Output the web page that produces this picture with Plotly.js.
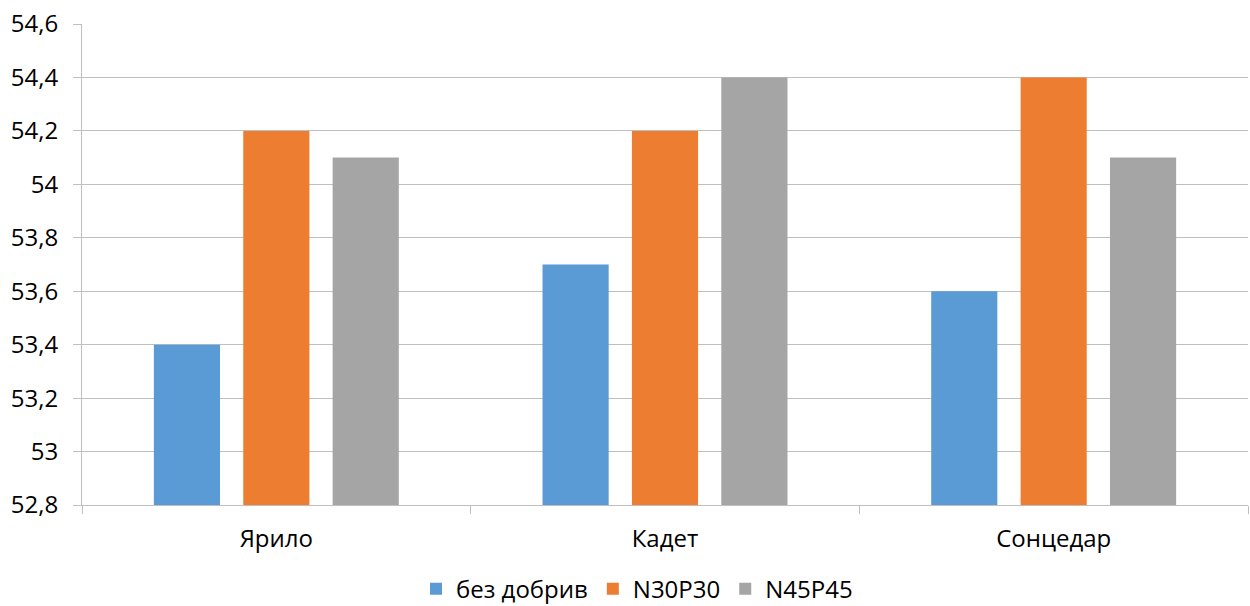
<!DOCTYPE html>
<html>
<head>
<meta charset="utf-8">
<script src="https://cdn.plot.ly/plotly-3.0.1.min.js"></script>
<style>
  html, body { margin: 0; padding: 0; background: #fff; }
  #chart { width: 1250px; height: 606px; }
</style>
</head>
<body>
<div id="chart"></div>
<script>
// Varieties and fertiliser treatments
const categories = ["Ярило", "Кадет", "Сонцедар"];
const seriesNames = ["без добрив", "N30P30", "N45P45"];
const noFertilizer = [53.4, 53.7, 53.6];
const n30p30 = [54.2, 54.2, 54.4];
const n45p45 = [54.1, 54.4, 54.1];
const yTicks = [52.8, 53, 53.2, 53.4, 53.6, 53.8, 54, 54.2, 54.4, 54.6];

const colors = ["#5B9BD5", "#ED7D31", "#A5A5A5"];
const values = [noFertilizer, n30p30, n45p45];

const traces = values.map((v, i) => ({
  type: "bar",
  name: seriesNames[i],
  x: categories,
  y: v,
  marker: { color: colors[i], line: { width: 0 } },
  hoverinfo: "skip"
}));

const font = "Open Sans, Noto Sans, Liberation Sans, sans-serif";

const layout = {
  width: 1250,
  height: 606,
  margin: { l: 82, r: 2, t: 23.5, b: 101, autoexpand: false },
  paper_bgcolor: "#ffffff",
  plot_bgcolor: "#ffffff",
  separators: ", ",
  barmode: "group",
  bargap: 0.31,
  bargroupgap: 0.26,
  font: { family: font, size: 24, color: "#000" },
  showlegend: true,
  legend: {
    orientation: "h",
    x: 0.476, xanchor: "center",
    y: -0.128, yanchor: "top",
    font: { family: font, size: 24, color: "#000" },
    itemwidth: 30,
    traceorder: "normal"
  },
  xaxis: {
    type: "category",
    tickson: "boundaries",
    ticks: "outside",
    ticklen: 8,
    tickcolor: "#bfbfbf",
    showline: true,
    linecolor: "#bfbfbf",
    linewidth: 1,
    showgrid: false,
    ticklabelstandoff: 12,
    tickfont: { family: font, size: 24, color: "#000" },
    fixedrange: true
  },
  yaxis: {
    range: [52.8, 54.6],
    tickvals: yTicks,
    ticks: "outside",
    ticklen: 8,
    tickcolor: "#bfbfbf",
    showline: true,
    linecolor: "#bfbfbf",
    showgrid: true,
    gridcolor: "#bfbfbf",
    gridwidth: 1,
    zeroline: false,
    ticklabelstandoff: 10,
    tickfont: { family: font, size: 24, color: "#000" },
    fixedrange: true
  }
};

Plotly.newPlot("chart", traces, layout, { displayModeBar: false, staticPlot: true });
</script>
</body>
</html>
